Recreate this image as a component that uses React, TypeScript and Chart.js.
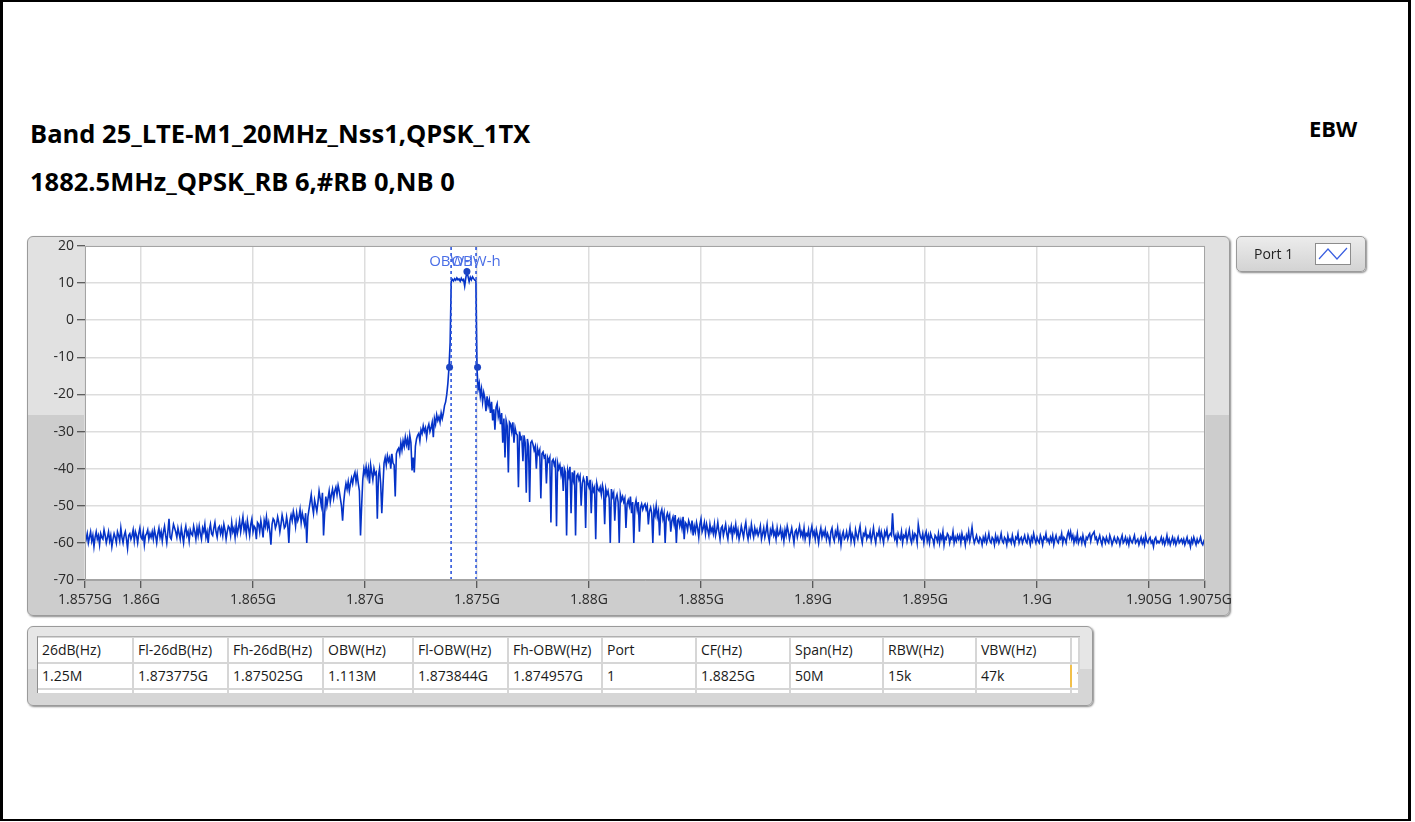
import React, { useEffect, useRef } from 'react';
import { Chart, registerables } from 'chart.js';

Chart.register(...registerables);

const TITLE_LINE_1 = 'Band 25_LTE-M1_20MHz_Nss1,QPSK_1TX';
const TITLE_LINE_2 = '1882.5MHz_QPSK_RB 6,#RB 0,NB 0';
const MODE_LABEL = 'EBW';
const SERIES_NAME = 'Port 1';

// sweep grid: 1.8575 GHz .. 1.9075 GHz, 1001 points
const FREQ_START_MHZ = 1857.5;
const FREQ_STEP_MHZ = 0.05;

// trace level (dBm), one row per MHz (20 points each)
const LEVEL_DBM = [
  -58, -59, -57.5, -60, -58.5, -57, -59.5, -58, -61, -58.5, -57, -59, -58, -60.5, -57.5, -58.5, -59, -56.5, -58, -60,
  -58.5, -57, -59.5, -58, -61, -59, -57.5, -58.5, -60, -57, -58, -59.5, -56, -58.5, -60, -58, -57, -59, -61.5, -58,
  -57.5, -59, -58, -56.5, -59.5, -57, -58, -60, -57.5, -56, -58.5, -59, -57, -60.5, -58, -57.5, -56.5, -59, -57.5, -58.5,
  -57, -59, -56.5, -58, -60, -57.5, -56, -58.5, -57, -59.5, -57, -55.5, -58, -60, -57, -53.5, -58.5, -59, -57, -55,
  -56, -57, -58.5, -56, -57.5, -59, -56, -58, -60, -57, -55.5, -58, -57, -59.5, -56.5, -57.5, -58, -55.5, -57, -59,
  -56, -58, -55.5, -57.5, -59, -56, -57, -55, -58.5, -57, -60, -56.5, -55, -57.5, -58, -56, -54.5, -57, -58.5, -56,
  -55.5, -57.5, -56, -58, -55, -56.5, -59, -57, -55.5, -56, -58, -54.5, -57, -56, -58.5, -55, -57.5, -56, -54, -57,
  -55, -53, -56.5, -55, -57.5, -54, -56, -58, -55, -53.5, -57, -55.5, -56, -59, -54.5, -55, -57, -54, -56, -58.5,
  -54, -55.5, -53, -56, -54.5, -57, -60.5, -55, -53.5, -54, -56, -55, -53, -54.5, -57, -55, -52.5, -54, -56, -55.5,
  -53, -55, -60, -54, -52.5, -54, -51.5, -53, -55.5, -52, -54, -53, -51, -54.5, -52, -53.5, -55, -52, -60, -53,
  -51, -49, -47, -50, -52, -48.5, -50, -51.5, -49, -46, -48, -50, -46.5, -58, -52, -47.5, -50, -48, -46, -49,
  -47, -45.5, -48, -46, -45, -47, -44.5, -46, -48, -50, -54, -49, -46, -44, -45.5, -43.5, -46, -44, -42.5, -44,
  -42, -41, -43.5, -41.5, -44, -46, -58, -50, -43, -40, -41.5, -39.5, -42, -40, -44, -39, -41, -43, -40, -41.5,
  -41, -53.5, -42, -40, -44, -52, -45, -38.5, -37, -39, -36.5, -38, -37, -40, -36, -38.5, -39, -47.5, -36, -35,
  -34.5, -36, -33, -35, -32.5, -34, -31.5, -33.5, -32, -35, -31, -33, -40.5, -37, -41, -34, -32, -31, -30.5, -32.5,
  -29.5, -30.5, -28.5, -30, -29, -31.5, -29, -28, -30, -29, -27.5, -31.5, -26.5, -28, -25.5, -27, -26, -27.5, -25, -26.5,
  -25, -23, -22, -20, -17, -12.7, -6, 10.5, 11, 10.6, 11.2, 10.8, 11.4, 10.9, 11.1, 10.5, 11.3, 10.7, 11, 9.2,
  11.4, 13.1, 11.8, 10.4, 11.6, 10.9, 11.7, 11.2, 10.8, 10.6, -13, -18.5, -17, -20.5, -18.5, -22, -19.5, -21, -24.5, -20.5,
  -23, -21.5, -25, -22, -27, -24, -29.5, -23.5, -22.5, -26, -24.5, -28, -25, -33, -26.5, -37, -27, -28.5, -41, -27.5,
  -28, -30, -27.5, -33, -29, -30.5, -31, -45, -30, -32, -31.5, -38, -31, -33, -46.5, -32, -34, -49, -33, -32.5,
  -33.5, -35, -34, -40, -34.5, -36, -35, -48, -36, -35.5, -37, -36.5, -44, -37, -38, -37, -54.5, -38, -37.5, -39,
  -38, -55.5, -38.5, -40, -39, -41.5, -39.5, -46, -40, -41, -58, -40.5, -42, -39.5, -52, -41, -43, -40.5, -58, -42,
  -41.5, -43, -42, -50, -44, -42.5, -43.5, -56, -42, -44, -45, -43, -52, -44.5, -46, -45, -59, -44, -45.5, -46,
  -45, -47, -44.5, -46, -55, -45.5, -47, -46, -48, -60, -45.5, -47.5, -46.5, -54, -48, -47, -49, -60, -47, -48.5,
  -47.5, -49, -48, -56, -49.5, -48.5, -50, -47.5, -52, -49, -60, -50, -48.5, -51, -49, -57, -50.5, -49.5, -51, -50,
  -49.5, -51, -50, -55, -51.5, -50.5, -52, -60, -51, -52.5, -50, -53, -51.5, -58, -52, -51, -53.5, -52, -60, -53,
  -52, -53.5, -52.5, -57, -54, -53, -55, -52.5, -60, -54, -53.5, -55.5, -54, -56, -53, -59, -54.5, -55, -56.5, -54,
  -55, -56.5, -54, -58, -55.5, -57, -54.5, -56, -58.5, -55, -53.5, -57, -56, -54.5, -57.5, -55, -56.5, -58, -55, -57,
  -56, -57.5, -55, -58, -56.5, -54.5, -57, -59, -56, -55.5, -58, -56.5, -55, -57.5, -59, -56, -57, -55.5, -58.5, -56,
  -57, -55, -58, -56.5, -59, -57.5, -55.5, -57, -58.5, -56, -54.5, -57.5, -59, -56.5, -58, -55, -57, -58.5, -56, -57.5,
  -56.5, -58, -57, -55.5, -59, -57.5, -56, -58.5, -57, -55, -58, -59.5, -56.5, -57.5, -55.5, -58, -57, -59, -56, -58,
  -57.5, -56, -58.5, -57, -59.5, -56.5, -58, -55.5, -57, -59, -57.5, -56, -58, -60, -57, -56.5, -58.5, -57, -55.5, -58,
  -57, -58.5, -56, -59, -57.5, -58, -56.5, -59.5, -57, -55.5, -58, -57, -59, -56.5, -58, -60, -57.5, -56, -58.5, -57,
  -58, -56.5, -59, -57.5, -58.5, -60, -57, -56, -58.5, -59.5, -57, -58, -56, -59, -57.5, -60.5, -58, -57, -59, -58.5,
  -57, -59, -58, -56, -59.5, -57.5, -58.5, -60, -56.5, -58, -59, -57, -55.5, -58.5, -60, -57.5, -58, -56.5, -59, -58,
  -58.5, -57, -59.5, -58, -56, -58.5, -60, -57.5, -58, -56.5, -59, -57, -58.5, -60, -57, -58, -56.5, -59, -58, -57.5,
  -58, -52, -57.5, -59, -58, -60, -57.5, -58.5, -59, -57, -60, -58, -58.5, -57, -59.5, -58, -56.5, -59, -60, -57.5,
  -59, -57.5, -58, -60, -55, -57, -58.5, -59, -57.5, -60, -58, -57, -59.5, -58, -60, -57.5, -58.5, -59, -60.5, -58,
  -58.5, -59.5, -57.5, -60, -58, -59, -57, -60.5, -58.5, -59, -57.5, -58, -60, -58.5, -59, -57, -60, -58.5, -59.5, -58,
  -59, -58, -60, -57.5, -59, -58.5, -60.5, -58, -59, -57, -59.5, -58, -55.8, -58.5, -60, -59, -58, -59.5, -60, -58.5,
  -59, -60.5, -58.5, -59.5, -58, -60, -59, -57.5, -59.5, -60, -58.5, -59, -60.5, -58, -59.5, -58.5, -60, -59, -57.5, -59.5,
  -60, -58.5, -59, -60.5, -58, -59.5, -59, -60, -58, -59.5, -60.5, -58.5, -59, -57.5, -60, -59, -58.5, -60, -59, -58,
  -59.5, -60, -58, -59, -60.5, -58.5, -59.5, -57.5, -59, -60, -58.5, -59.5, -60, -58, -59, -60.5, -58.5, -59, -57.5, -59.5,
  -59, -60, -58.5, -59.5, -58, -60.5, -59, -58, -59.5, -60, -58.5, -59, -57.5, -60, -58.5, -59, -60, -58, -57, -58.5,
  -57, -59, -58, -60, -58.5, -59.5, -57.5, -60, -59, -58.5, -60, -58, -59.5, -60.5, -58.5, -59, -58, -57.5, -59.5, -58,
  -57.5, -57, -59, -58.5, -60, -59, -58, -59.5, -60.5, -58.5, -59, -60, -58.5, -59.5, -60, -58, -59, -60.5, -59.5, -58.5,
  -59.5, -60, -58.5, -59, -60.5, -59, -58, -60, -59.5, -58.5, -60, -59, -60.5, -58.5, -59.5, -60, -59, -58, -60, -59.5,
  -59, -60.5, -59.5, -58.5, -60, -59, -60.5, -58, -59.5, -60, -59, -58.5, -60, -59.5, -61, -59, -58.5, -60, -59.5, -60,
  -59.5, -58.5, -60, -59, -60.5, -59.5, -58, -60, -59, -60.5, -59.5, -58.5, -60, -59, -60.5, -59.5, -58.5, -60, -59.5, -59,
  -60, -59, -60.5, -59.5, -58.5, -60, -59.5, -61, -59, -60, -58.5, -59.5, -60.5, -59, -60, -59.5, -58.5, -60, -60.5, -59.5,
  -60,
];

const X_MIN_MHZ = 1857.5;
const X_MAX_MHZ = 1907.5;
const X_TICKS_MHZ = [1857.5, 1860, 1865, 1870, 1875, 1880, 1885, 1890, 1895, 1900, 1905, 1907.5];
const X_TICK_LABELS = ['1.8575G', '1.86G', '1.865G', '1.87G', '1.875G', '1.88G', '1.885G', '1.89G', '1.895G', '1.9G', '1.905G', '1.9075G'];
const Y_MIN = -70;
const Y_MAX = 20;
const Y_STEP = 10;

const OBW_LINES_MHZ = [1873.844, 1874.957];
const OBW_LABELS = ['OBW-l', 'OBW-h'];
const MARKER_FREQ_MHZ = [1873.775, 1875.025, 1874.55];
const MARKER_LEVEL_DBM = [-12.7, -12.7, 13.1];

const TABLE_HEADERS = ['26dB(Hz)', 'Fl-26dB(Hz)', 'Fh-26dB(Hz)', 'OBW(Hz)', 'Fl-OBW(Hz)', 'Fh-OBW(Hz)', 'Port', 'CF(Hz)', 'Span(Hz)', 'RBW(Hz)', 'VBW(Hz)', ''];
const TABLE_VALUES = ['1.25M', '1.873775G', '1.875025G', '1.113M', '1.873844G', '1.874957G', '1', '1.8825G', '50M', '15k', '47k', '1'];
const TABLE_COL_WIDTHS = [96, 95, 95, 90, 95, 94, 94, 94, 93, 93, 95, 8];

const FONT = '"Open Sans", "Noto Sans", sans-serif';
const TRACE_COLOR = '#0533c8';
const MARKER_COLOR = '#2f57dc';

export default function App() {
  const canvasRef = useRef<HTMLCanvasElement | null>(null);

  useEffect(() => {
    document.body.style.margin = '0';
    const canvas = canvasRef.current;
    if (!canvas) return;
    const trace = LEVEL_DBM.map((v, i) => ({ x: FREQ_START_MHZ + i * FREQ_STEP_MHZ, y: v }));
    const markers = MARKER_FREQ_MHZ.map((f, i) => ({ x: f, y: MARKER_LEVEL_DBM[i] }));

    const plotDecor = {
      id: 'plotDecor',
      beforeDraw(chart: any) {
        const { ctx, chartArea: a } = chart;
        ctx.save();
        ctx.fillStyle = '#ffffff';
        ctx.fillRect(a.left, a.top, a.right - a.left, a.bottom - a.top);
        ctx.restore();
      },
      afterDraw(chart: any) {
        const { ctx, chartArea: a, scales } = chart;
        ctx.save();
        ctx.strokeStyle = '#a4a4a4';
        ctx.lineWidth = 1;
        ctx.strokeRect(a.left + 0.5, a.top + 0.5, a.right - a.left - 1, a.bottom - a.top - 1);
        ctx.font = `15px ${FONT}`;
        ctx.fillStyle = '#4a6ee6';
        ctx.textAlign = 'center';
        ctx.textBaseline = 'middle';
        OBW_LINES_MHZ.forEach((f, i) => {
          const x = scales.x.getPixelForValue(f);
          ctx.fillText(OBW_LABELS[i], x, a.top + 16);
        });
        ctx.restore();
      },
    };

    const chart = new Chart(canvas, {
      type: 'line',
      data: {
        datasets: [
          {
            data: trace,
            borderColor: TRACE_COLOR,
            borderWidth: 1.6,
            pointRadius: 0,
            tension: 0,
            order: 3,
          },
          ...OBW_LINES_MHZ.map((f) => ({
            data: [{ x: f, y: Y_MIN }, { x: f, y: Y_MAX }],
            borderColor: MARKER_COLOR,
            borderWidth: 1.6,
            borderDash: [3, 3],
            pointRadius: 0,
            order: 2,
          })),
          {
            data: markers,
            showLine: false,
            pointRadius: 3.5,
            pointBackgroundColor: '#1c44c4',
            pointBorderColor: '#1c44c4',
            pointBorderWidth: 0,
            order: 1,
          },
        ] as any,
      },
      options: {
        animation: false,
        responsive: false,
        maintainAspectRatio: false,
        layout: { padding: { top: 20, right: 45, left: 0, bottom: 0 } },
        plugins: { legend: { display: false }, tooltip: { enabled: false } },
        scales: {
          x: {
            type: 'linear',
            min: X_MIN_MHZ,
            max: X_MAX_MHZ,
            afterBuildTicks: (s: any) => {
              s.ticks = X_TICKS_MHZ.map((v) => ({ value: v }));
            },
            afterFit: (s: any) => {
              s.height = 46;
            },
            ticks: {
              autoSkip: false,
              maxRotation: 0,
              padding: 4,
              color: '#2a2a2a',
              font: { family: FONT, size: 14 },
              callback: (_v: any, i: number) => X_TICK_LABELS[i],
            },
            grid: {
              color: '#dddddd',
              lineWidth: 1.5,
              tickColor: '#333333',
              tickLength: 8,
              tickWidth: 1,
            },
            border: { display: true, color: '#a4a4a4' },
          },
          y: {
            min: Y_MIN,
            max: Y_MAX,
            afterFit: (s: any) => {
              s.width = 85;
            },
            ticks: {
              stepSize: Y_STEP,
              padding: 3,
              color: '#2a2a2a',
              font: { family: FONT, size: 14 },
            },
            grid: {
              color: '#dddddd',
              lineWidth: 1.5,
              tickColor: '#333333',
              tickLength: 8,
              tickWidth: 1,
            },
            border: { display: true, color: '#a4a4a4' },
          },
        },
      } as any,
      plugins: [plotDecor],
    });
    return () => chart.destroy();
  }, []);

  const colLefts: number[] = [];
  let acc = 38;
  TABLE_COL_WIDTHS.forEach((w) => {
    colLefts.push(acc);
    acc += w;
  });
  const rows = [
    { top: 638, h: 24, cells: TABLE_HEADERS },
    { top: 664, h: 24, cells: TABLE_VALUES },
    { top: 690, h: 3, cells: TABLE_HEADERS.map(() => '') },
  ];

  return (
    <div style={{ position: 'relative', width: 1415, height: 822, background: '#ffffff', overflow: 'hidden', fontFamily: FONT }}>
      {/* outer frame */}
      <div style={{ position: 'absolute', left: 0, top: 0, width: 1411, height: 821, borderLeft: '3px solid #000', borderTop: '2px solid #000', borderRight: '3px solid #000', borderBottom: '2px solid #000', boxSizing: 'border-box' }} />

      <div style={{ position: 'absolute', left: 30, top: 117, fontSize: 25.5, fontWeight: 700, color: '#000', lineHeight: '32px', whiteSpace: 'nowrap' }}>{TITLE_LINE_1}</div>
      <div style={{ position: 'absolute', left: 30, top: 165, fontSize: 25.5, fontWeight: 700, color: '#000', lineHeight: '32px', whiteSpace: 'nowrap' }}>{TITLE_LINE_2}</div>
      <div style={{ position: 'absolute', left: 1309, top: 114, fontSize: 22, fontWeight: 700, color: '#000', lineHeight: '28px' }}>{MODE_LABEL}</div>

      {/* graph panel */}
      <div style={{ position: 'absolute', left: 27, top: 236, width: 1203, height: 380, boxSizing: 'border-box', borderRadius: 6, border: '1px solid #9a9a9a', boxShadow: '1px 1px 2px #8a8a8a', background: 'linear-gradient(to bottom, #e1e1e1 0px, #e1e1e1 178px, #cdcdcd 178px, #cdcdcd 100%)' }} />
      <canvas ref={canvasRef} width={1250} height={400} style={{ position: 'absolute', left: 0, top: 226, width: 1250, height: 400 }} />

      {/* legend */}
      <div style={{ position: 'absolute', left: 1236, top: 236, width: 130, height: 36, boxSizing: 'border-box', borderRadius: 5, border: '1px solid #9a9a9a', boxShadow: '1px 1px 2px #8a8a8a', background: 'linear-gradient(to bottom, #ececec, #d3d3d3)' }}>
        <div style={{ position: 'absolute', left: 17, top: 7, fontSize: 14, color: '#222', lineHeight: '20px' }}>{SERIES_NAME}</div>
        <div style={{ position: 'absolute', left: 78, top: 6, width: 36, height: 22, boxSizing: 'border-box', background: '#fff', border: '1px solid #8c8c8c' }}>
          <svg width={34} height={20} style={{ position: 'absolute', left: 0, top: 0 }}>
            <polyline points="3,15 12,5 21,15 31,4" fill="none" stroke="#3a5fe0" strokeWidth={1.2} />
          </svg>
        </div>
      </div>

      {/* results table panel */}
      <div style={{ position: 'absolute', left: 27, top: 626, width: 1066, height: 80, boxSizing: 'border-box', borderRadius: 6, border: '1px solid #9a9a9a', boxShadow: '1px 1px 2px #8a8a8a', background: 'linear-gradient(to bottom, #e6e6e6 0px, #e6e6e6 42px, #d6d6d6 42px, #d6d6d6 100%)' }} />
      <div style={{ position: 'absolute', left: 37, top: 636, width: 1043, height: 57, background: '#d6d6d6', borderLeft: '1px solid #8e8e8e', borderTop: '1px solid #b0b0b0', boxSizing: 'border-box' }} />
      {rows.map((r, ri) =>
        r.cells.map((c, ci) => (
          <div
            key={`${ri}-${ci}`}
            style={{
              position: 'absolute',
              left: colLefts[ci],
              top: r.top,
              width: TABLE_COL_WIDTHS[ci] - 2,
              height: r.h,
              background: '#ffffff',
              overflow: 'hidden',
              whiteSpace: 'nowrap',
              fontSize: 14,
              lineHeight: `${r.h}px`,
              color: '#1a1a1a',
              paddingLeft: 4,
              boxSizing: 'border-box',
            }}
          >
            {c}
          </div>
        ))
      )}
      <div style={{ position: 'absolute', left: 1070, top: 665, width: 2, height: 22, background: '#f2c04a' }} />
    </div>
  );
}
